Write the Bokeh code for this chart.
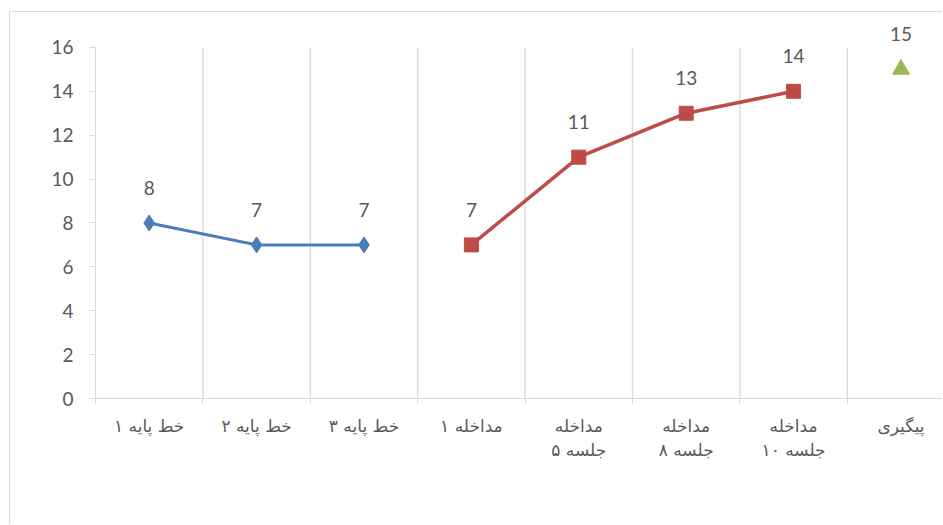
from bokeh.plotting import figure
from bokeh.models import ColumnDataSource, LabelSet, FixedTicker, Range1d
from bokeh.core.properties import value
from bokeh.embed import file_html
from bokeh.resources import INLINE

categories = ["خط پایه ۱", "خط پایه ۲", "خط پایه ۳", "مداخله ۱",
              "مداخله\nجلسه ۵", "مداخله\nجلسه ۸", "مداخله\nجلسه ۱۰", "پیگیری"]
baseline_idx = [0, 1, 2]
baseline_vals = [8, 7, 7]
interv_idx = [3, 4, 5, 6]
interv_vals = [7, 11, 13, 14]
follow_idx = [7]
follow_vals = [15]
y_ticks = [0, 2, 4, 6, 8, 10, 12, 14, 16]

GRAY = "#595959"
GRID = "#d9d9d9"
BLUE = "#4a7ebb"
RED = "#be4b48"
GREEN = "#98b954"

Y_MAX = y_ticks[-1]
W, H = 933, 513
p = figure(width=W, height=H, output_backend="svg", toolbar_location=None,
           x_range=Range1d(0, 7.896), y_range=Range1d(0, 17.5),
           min_border_left=85, min_border_right=0, min_border_top=2,
           min_border_bottom=H - 386)
p.outline_line_color = None
p.background_fill_color = "white"
p.border_fill_color = "white"
p.styles = {"margin-left": "9px", "margin-top": "11px",
            "border-left": "1px solid #d9d9d9", "border-top": "1px solid #d9d9d9"}

# x axis
centers = [i + 0.5 for i in range(len(categories))]
p.xaxis.ticker = FixedTicker(ticks=centers, minor_ticks=list(range(len(categories) + 1)))
p.xaxis.major_label_overrides = {c: lab for c, lab in zip(centers, categories)}
p.xaxis.major_tick_out = 0
p.xaxis.major_tick_in = 0
p.xaxis.minor_tick_out = 5
p.xaxis.minor_tick_in = 0
p.xaxis.minor_tick_line_color = GRID
p.xaxis.axis_line_color = GRID
p.xaxis.major_label_text_color = GRAY
p.xaxis.major_label_text_font = "DejaVu Sans"
p.xaxis.major_label_text_font_size = "17px"
p.xaxis.major_label_standoff = 12

# y axis
p.yaxis.ticker = FixedTicker(ticks=y_ticks)
p.yaxis.bounds = (0, Y_MAX)
p.yaxis.major_tick_out = 6
p.yaxis.major_tick_in = 0
p.yaxis.minor_tick_line_color = None
p.yaxis.major_tick_line_color = GRID
p.yaxis.axis_line_color = GRID
p.yaxis.major_label_text_color = GRAY
p.yaxis.major_label_text_font = "Lato"
p.yaxis.major_label_text_font_size = "19px"
p.yaxis.major_label_standoff = 16

# grids: vertical category separators limited to the value axis extent
p.ygrid.grid_line_color = None
p.xgrid.grid_line_color = None
bounds = list(range(1, len(categories) + 1))
p.segment(x0=bounds, y0=[0] * len(bounds), x1=bounds, y1=[Y_MAX] * len(bounds),
          line_color=GRID, line_width=1.3)

b_src = ColumnDataSource(dict(x=[v + 0.5 for v in baseline_idx], y=baseline_vals,
                              t=[str(v) for v in baseline_vals]))
i_src = ColumnDataSource(dict(x=[v + 0.5 for v in interv_idx], y=interv_vals,
                              t=[str(v) for v in interv_vals]))
f_src = ColumnDataSource(dict(x=[v + 0.5 for v in follow_idx], y=follow_vals,
                              t=[str(v) for v in follow_vals]))

p.line("x", "y", source=b_src, line_color=BLUE, line_width=3)
p.scatter("x", "y", source=b_src, marker="diamond", size=16, fill_color=BLUE, line_color=BLUE)
p.line("x", "y", source=i_src, line_color=RED, line_width=3.5)
p.scatter("x", "y", source=i_src, marker="square", size=14, fill_color=RED, line_color=RED)
p.scatter("x", "y", source=f_src, marker="triangle", size=17, fill_color=GREEN, line_color=GREEN)

for src in (b_src, i_src, f_src):
    p.add_layout(LabelSet(x="x", y="y", text="t", source=src, y_offset=35,
                          text_align="center", text_baseline="middle",
                          text_color=GRAY, text_font_size="19px", text_font=value("Lato")))

open("out.html", "w").write(file_html(p, INLINE))
